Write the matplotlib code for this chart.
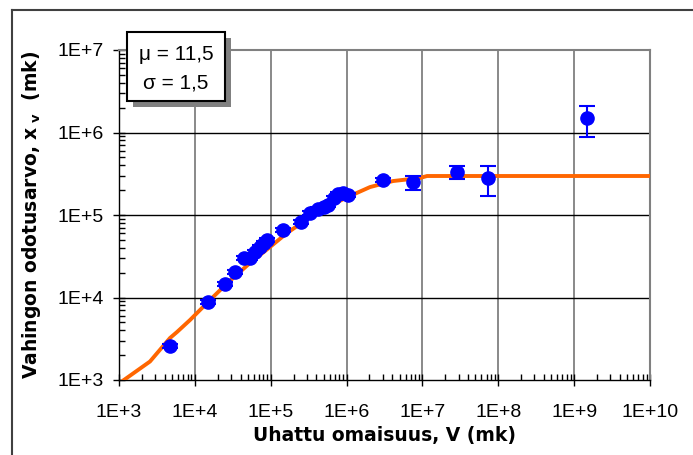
import matplotlib
matplotlib.use("Agg")
import matplotlib.pyplot as plt
from matplotlib.patches import Rectangle
from matplotlib.lines import Line2D
from matplotlib.ticker import LogLocator, NullFormatter, FixedLocator
import numpy as np

# ---- data ----
obs_v = [4700, 14900, 24700, 33500, 44700, 53300, 62100, 72300, 81500, 90700,
         144000, 251000, 334000, 424000, 504000, 574000, 683000, 778000, 897000,
         1045000, 2980000, 7450000, 2.83e7, 7.39e7, 1.46e9]
obs_x = [2605, 8810, 14600, 20500, 29900, 29900, 35900, 41300, 45800, 49800,
         66700, 83000, 105000, 117000, 125000, 132000, 161000, 180000, 183000,
         175000, 266000, 251000, 335000, 283000, 1.50e6]
obs_err = [150, 500, 800, 1100, 1700, 1700, 2000, 2300, 2600, 2800,
           3700, 4600, 5800, 6500, 7000, 7400, 9000, 10000, 10200,
           9800, 15000, 50000, 63000, 112000, 620000]

curve_v = [1160, 2560, 4700, 5820, 8630, 15850, 26500, 53300, 97800, 164000,
           267000, 552000, 1110000, 2035000, 4095000, 9290000, 11500000, 1e10]
curve_x = [1000, 1675, 3228, 3819, 5333, 9330, 14800, 26200, 40900, 60500,
           82300, 125000, 170000, 218000, 258000, 281000, 297000, 297000]

x_ticks = [1e3, 1e4, 1e5, 1e6, 1e7, 1e8, 1e9, 1e10]
x_ticklabels = ["1E+3", "1E+4", "1E+5", "1E+6", "1E+7", "1E+8", "1E+9", "1E+10"]
y_ticks = [1e3, 1e4, 1e5, 1e6, 1e7]
y_ticklabels = ["1E+3", "1E+4", "1E+5", "1E+6", "1E+7"]

box_lines = ["\u03bc = 11,5", "\u03c3 = 1,5"]
xlabel = "Uhattu omaisuus, V (mk)"
ylabel = r"Vahingon odotusarvo, x$_{\ \mathbf{v}}$  (mk)"

# ---- style ----
plt.rcParams['font.family'] = ['Liberation Sans', 'DejaVu Sans']
plt.rcParams['mathtext.fontset'] = 'dejavusans'

W, H = 693, 455
fig = plt.figure(figsize=(W / 100, H / 100), dpi=100)
fig.patch.set_facecolor('white')

L, R, T, B = 119, 650, 50, 380
ax = fig.add_axes([L / W, 1 - B / H, (R - L) / W, (B - T) / H])
ax.set_xscale('log')
ax.set_yscale('log')
ax.set_xlim(1e3, 1e10)
ax.set_ylim(1e3, 1e7)

# grid
for xv in x_ticks[1:-1]:
    ax.axvline(xv, color='#808080', lw=1.3, zorder=1)
for yv in y_ticks[1:-1]:
    ax.axhline(yv, color='black', lw=1.0, zorder=1)

for s in ['top', 'right']:
    ax.spines[s].set_color('#808080')
    ax.spines[s].set_linewidth(1.5)
for s in ['left', 'bottom']:
    ax.spines[s].set_color('black')
    ax.spines[s].set_linewidth(1.0)

# curve
ax.plot(curve_v, curve_x, color='#FF6600', lw=2.8, zorder=3, clip_on=True)

# observations
ax.errorbar(obs_v, obs_x, yerr=obs_err, fmt='o', color='#0000FF', ms=9.5,
            ecolor='#0000FF', elinewidth=1.5, capsize=6, capthick=1.5, zorder=4)

# ticks
ax.xaxis.set_major_locator(FixedLocator(x_ticks))
ax.yaxis.set_major_locator(FixedLocator(y_ticks))
ax.set_xticklabels(x_ticklabels)
ax.set_yticklabels(y_ticklabels)
ax.xaxis.set_minor_locator(LogLocator(base=10, subs=np.arange(2, 10), numticks=20))
ax.yaxis.set_minor_locator(LogLocator(base=10, subs=np.arange(2, 10), numticks=20))
ax.xaxis.set_minor_formatter(NullFormatter())
ax.yaxis.set_minor_formatter(NullFormatter())
ax.tick_params(axis='both', which='major', direction='inout', length=8, width=1,
               labelsize=14, color='black')
ax.tick_params(axis='both', which='minor', direction='in', length=4, width=1,
               color='black')
ax.tick_params(axis='x', which='major', pad=13)
ax.tick_params(axis='y', which='major', pad=7)

ax.set_xlabel(xlabel, fontsize=13.5, fontweight='bold', labelpad=4,
              family=['DejaVu Sans'])
ax.set_ylabel(ylabel, fontsize=13.5, fontweight='bold', labelpad=10,
              family=['DejaVu Sans'])

# parameter box with shadow
def px2fig(x, y):
    return x / W, 1 - y / H

bx0, by0, bx1, by1 = 127, 32, 225, 101
sh = 6
fx, fy = px2fig(bx0 + sh, by1 + sh)
fig.patches.append(Rectangle((fx, fy), (bx1 - bx0) / W, (by1 - by0) / H,
                             transform=fig.transFigure, facecolor='#808080',
                             edgecolor='none', zorder=5))
fx, fy = px2fig(bx0, by1)
fig.patches.append(Rectangle((fx, fy), (bx1 - bx0) / W, (by1 - by0) / H,
                             transform=fig.transFigure, facecolor='white',
                             edgecolor='black', lw=1.5, zorder=6))
cx = (bx0 + bx1) / 2
fig.text(cx / W, 1 - 54 / H, box_lines[0], ha='center', va='center',
         fontsize=15, zorder=7)
fig.text(cx / W, 1 - 83 / H, box_lines[1], ha='center', va='center',
         fontsize=15, zorder=7)

# outer frame (left and top edges visible)
fig.lines.append(Line2D([12 / W, 12 / W], [0, 1 - 10 / H], transform=fig.transFigure,
                        color='#404040', lw=1.5))
fig.lines.append(Line2D([12 / W, 1], [1 - 10 / H, 1 - 10 / H], transform=fig.transFigure,
                        color='#404040', lw=1.5))

fig.savefig('out.png', dpi=100)
